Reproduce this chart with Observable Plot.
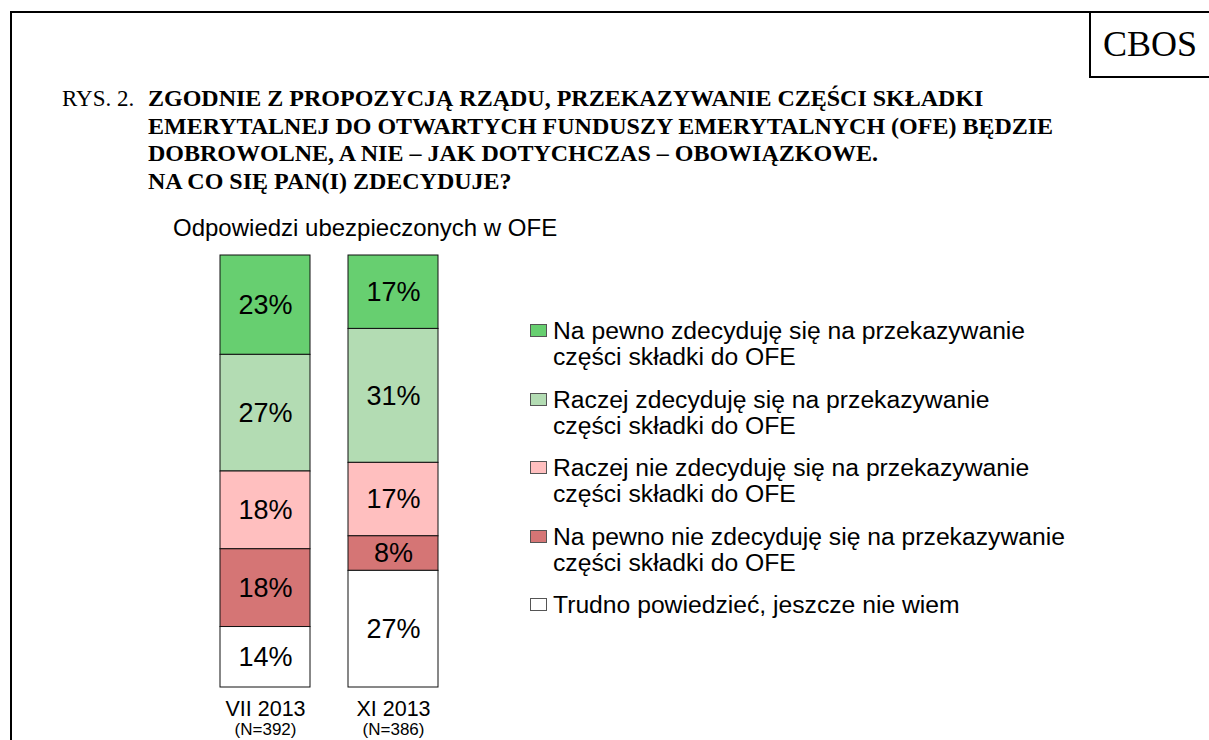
<!DOCTYPE html>
<html>
<head>
<meta charset="utf-8">
<script src="https://cdn.jsdelivr.net/npm/d3@7"></script>
<script src="https://cdn.jsdelivr.net/npm/@observablehq/plot@0.6"></script>
<style>
  html, body { margin: 0; padding: 0; background: #fff; }
  #page { position: relative; width: 1209px; height: 740px; overflow: hidden; background: #fff; font-family: "Liberation Sans", Arial, sans-serif; color: #000; }
  #frame { position: absolute; left: 10px; top: 11px; width: 1400px; height: 900px; border-left: 2px solid #000; border-top: 2px solid #000; }
  #cbos { position: absolute; left: 1089px; top: 11px; width: 200px; height: 63px; border: 2px solid #000; box-sizing: content-box; }
  #cbos span { position: absolute; left: 0; width: 118px; top: 0; line-height: 63px; text-align: center; font-family: "Liberation Serif", "Times New Roman", serif; font-size: 36px; }
  #rys { position: absolute; left: 62px; top: 85px; font-family: "Liberation Serif", "Times New Roman", serif; font-size: 23px; line-height: 27.7px; }
  #title { position: absolute; left: 148px; top: 85px; width: 1000px; font-family: "Liberation Serif", "Times New Roman", serif; font-weight: bold; font-size: 24px; line-height: 27.7px; white-space: nowrap; }
  #subtitle { position: absolute; left: 173px; top: 214px; font-size: 24px; line-height: 28px; }
  #chart { position: absolute; left: 0; top: 0; }
  #legend { position: absolute; left: 530px; top: 318px; font-size: 24.7px; line-height: 26px; white-space: nowrap; }
  .item { position: relative; padding-left: 23px; margin-bottom: 16.5px; }
  .sw { position: absolute; left: 0; top: 6px; width: 15px; height: 11px; border: 1px solid #555; }
</style>
</head>
<body>
<div id="page">
  <div id="frame"></div>
  <div id="cbos"><span>CBOS</span></div>
  <div id="rys">RYS. 2.</div>
  <div id="title"></div>
  <div id="subtitle"></div>
  <div id="chart"></div>
  <div id="legend"></div>
</div>
<script>
const titleLines = [
  "ZGODNIE Z PROPOZYCJĄ RZĄDU, PRZEKAZYWANIE CZĘŚCI SKŁADKI",
  "EMERYTALNEJ DO OTWARTYCH FUNDUSZY EMERYTALNYCH (OFE) BĘDZIE",
  "DOBROWOLNE, A NIE – JAK DOTYCHCZAS – OBOWIĄZKOWE.",
  "NA CO SIĘ PAN(I) ZDECYDUJE?"
];
const subtitle = "Odpowiedzi ubezpieczonych w OFE";
const periods = ["VII 2013", "XI 2013"];
const sampleSizes = ["(N=392)", "(N=386)"];
const categories = [
  "Na pewno zdecyduję się na przekazywanie\nczęści składki do OFE",
  "Raczej zdecyduję się na przekazywanie\nczęści składki do OFE",
  "Raczej nie zdecyduję się na przekazywanie\nczęści składki do OFE",
  "Na pewno nie zdecyduję się na przekazywanie\nczęści składki do OFE",
  "Trudno powiedzieć, jeszcze nie wiem"
];
const valuesVII = [23, 27, 18, 18, 14];
const valuesXI = [17, 31, 17, 8, 27];
const colors = ["#67cf70", "#b3dcb3", "#ffbfbf", "#d57575", "#ffffff"];

document.getElementById("title").innerHTML = titleLines.join("<br>");
document.getElementById("subtitle").textContent = subtitle;

const seriesByPeriod = [valuesVII, valuesXI];
const table = [];
periods.forEach((p, i) => {
  categories.forEach((c, j) => table.push({period: p, category: c, value: seriesByPeriod[i][j]}));
});
const stackOrder = categories.slice().reverse();
const axisRows = periods.map((p, i) => ({period: p, n: sampleSizes[i]}));

const chart = Plot.plot({
  width: 1209,
  height: 740,
  marginLeft: 201,
  marginRight: 752,
  marginTop: 255,
  marginBottom: 53,
  style: {fontFamily: "'Liberation Sans', Arial, sans-serif", background: "transparent", color: "#000"},
  x: {domain: periods, paddingInner: 38 / 128, paddingOuter: 19 / 128, axis: null},
  y: {domain: [0, 100], axis: null},
  color: {domain: categories, range: colors},
  marks: [
    Plot.barY(table, Plot.stackY({x: "period", y: "value", fill: "category", order: stackOrder, stroke: "#111", strokeWidth: 1})),
    Plot.text(table, Plot.stackY({x: "period", y: "value", z: "category", order: stackOrder, text: d => d.value + "%", fontSize: 27, fill: "#000"})),
    Plot.text(periods, {x: d => d, text: d => d, frameAnchor: "bottom", lineAnchor: "middle", dy: 22, fontSize: 21.5, fill: "#000"}),
    Plot.text(axisRows, {x: "period", text: "n", frameAnchor: "bottom", lineAnchor: "middle", dy: 42.5, fontSize: 17, fill: "#000"})
  ]
});
document.getElementById("chart").appendChild(chart);

const legend = document.getElementById("legend");
categories.forEach((c, j) => {
  const item = document.createElement("div");
  item.className = "item";
  const sw = document.createElement("div");
  sw.className = "sw";
  sw.style.background = colors[j];
  item.appendChild(sw);
  c.split("\n").forEach(line => {
    const l = document.createElement("div");
    l.textContent = line;
    item.appendChild(l);
  });
  legend.appendChild(item);
});
</script>
</body>
</html>
